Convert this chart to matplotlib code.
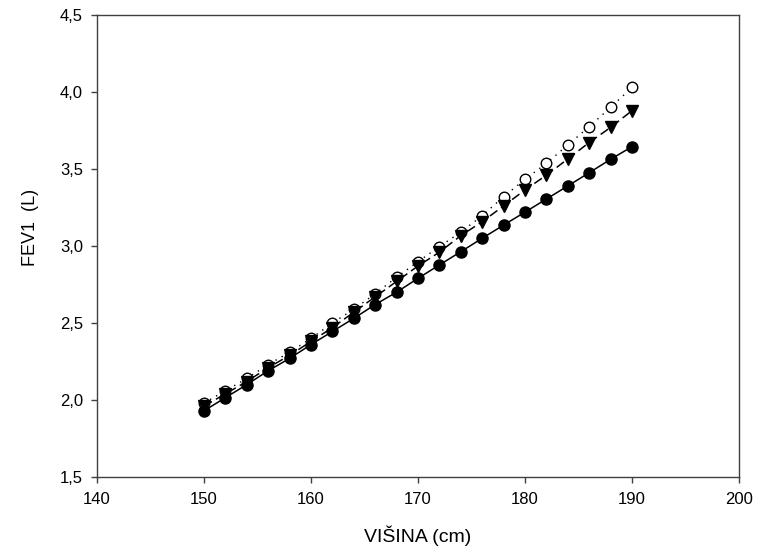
import matplotlib
matplotlib.use('Agg')
import matplotlib.pyplot as plt

# heights (cm)
visina = [150, 152, 154, 156, 158, 160, 162, 164, 166, 168, 170,
          172, 174, 176, 178, 180, 182, 184, 186, 188, 190]

# FEV1 (L)
fev1_filled = [1.93, 2.015, 2.10, 2.19, 2.27, 2.36, 2.445, 2.53, 2.62, 2.70, 2.79,
               2.877, 2.963, 3.05, 3.136, 3.22, 3.305, 3.39, 3.476, 3.563, 3.645]
fev1_triangle = [1.96, 2.04, 2.12, 2.21, 2.29, 2.38, 2.47, 2.57, 2.67, 2.77, 2.87,
                 2.96, 3.067, 3.158, 3.26, 3.364, 3.46, 3.565, 3.672, 3.77, 3.879]
fev1_open = [1.98, 2.06, 2.14, 2.23, 2.31, 2.40, 2.50, 2.59, 2.69, 2.797, 2.898,
             2.996, 3.09, 3.197, 3.32, 3.433, 3.537, 3.656, 3.775, 3.90, 4.03]

x_ticks = [140, 150, 160, 170, 180, 190, 200]
x_tick_labels = ['140', '150', '160', '170', '180', '190', '200']
y_ticks = [1.5, 2.0, 2.5, 3.0, 3.5, 4.0, 4.5]
y_tick_labels = ['1,5', '2,0', '2,5', '3,0', '3,5', '4,0', '4,5']

plt.rcParams['font.family'] = ['Liberation Sans', 'DejaVu Sans']

fig = plt.figure(figsize=(7.65, 5.56), dpi=100)
ax = fig.add_axes([97 / 765, 1 - 477 / 556, 642 / 765, 462 / 556])

# open circles first, filled ones end up on top
ax.plot(visina, fev1_open, color='black', lw=1.0, linestyle=(0, (1, 4)),
        marker='o', markersize=7.6, markerfacecolor='white',
        markeredgecolor='black', markeredgewidth=1.0, zorder=2)
ax.plot(visina, fev1_triangle, color='black', lw=1.1, linestyle=(0, (6, 3)),
        marker='v', markersize=8.2, markerfacecolor='black',
        markeredgecolor='black', zorder=3)
ax.plot(visina, fev1_filled, color='black', lw=1.1, linestyle='-',
        marker='o', markersize=8.0, markerfacecolor='black',
        markeredgecolor='black', zorder=4)

ax.set_xlim(140, 200)
ax.set_ylim(1.5, 4.5)
ax.set_xticks(x_ticks)
ax.set_xticklabels(x_tick_labels)
ax.set_yticks(y_ticks)
ax.set_yticklabels(y_tick_labels)

for s in ax.spines.values():
    s.set_color('#404040')
    s.set_linewidth(1.0)
ax.tick_params(direction='out', length=4.0, width=1.0, color='#404040',
               labelsize=12)
ax.tick_params(axis='x', pad=7)
ax.tick_params(axis='y', pad=6)

ax.set_xlabel('VIŠINA (cm)', fontsize=14)
ax.set_ylabel('FEV1  (L)', fontsize=13)
ax.xaxis.set_label_coords(0.5, -0.106)
ax.yaxis.set_label_coords(-0.090, 0.540)

fig.savefig('out.png', dpi=100)
plt.close(fig)
